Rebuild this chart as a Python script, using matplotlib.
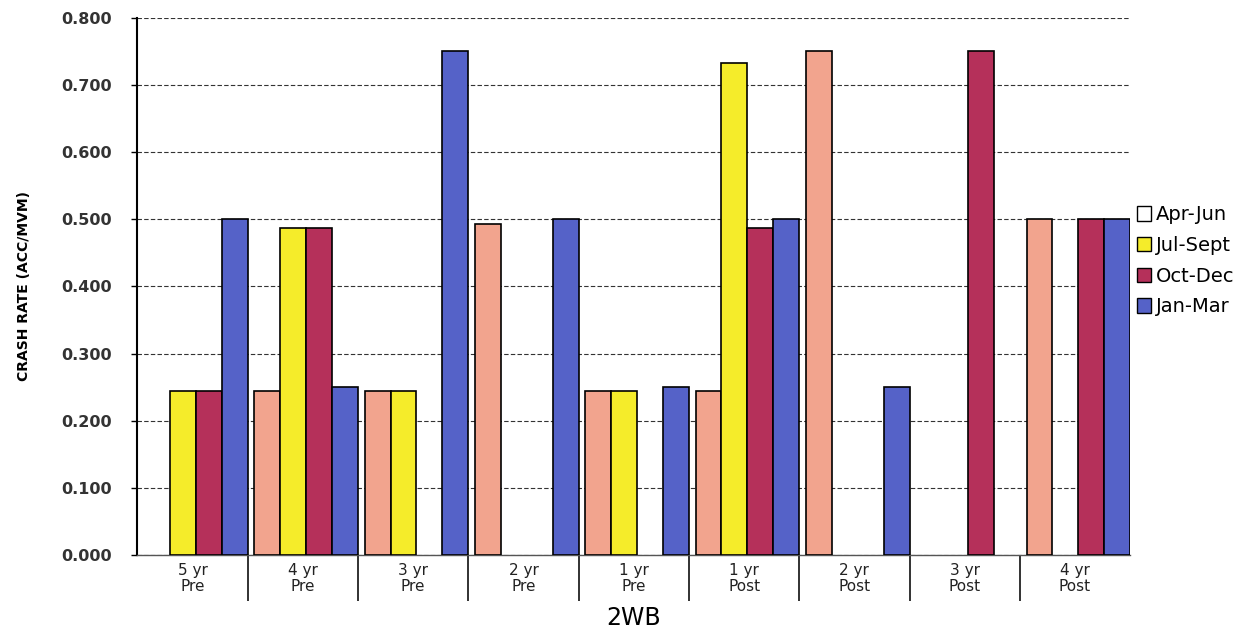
import numpy as np
import matplotlib
matplotlib.use('Agg')
import matplotlib.pyplot as plt
from matplotlib.patches import Patch

# Crash rate by quarter for each study year
groups = ['5 yr\nPre', '4 yr\nPre', '3 yr\nPre', '2 yr\nPre', '1 yr\nPre',
          '1 yr\nPost', '2 yr\nPost', '3 yr\nPost', '4 yr\nPost']
apr_jun = [0.000, 0.245, 0.245, 0.493, 0.245, 0.245, 0.750, 0.000, 0.500]
jul_sept = [0.245, 0.487, 0.245, 0.000, 0.245, 0.733, 0.000, 0.000, 0.000]
oct_dec = [0.245, 0.487, 0.000, 0.000, 0.000, 0.487, 0.000, 0.750, 0.500]
jan_mar = [0.500, 0.250, 0.750, 0.500, 0.250, 0.500, 0.250, 0.000, 0.500]

series = [('Apr-Jun', apr_jun, '#f2a48e'),
          ('Jul-Sept', jul_sept, '#f5ec2a'),
          ('Oct-Dec', oct_dec, '#b5305a'),
          ('Jan-Mar', jan_mar, '#5562c8')]
legend_colors = ['white', '#f5ec2a', '#b5305a', '#5562c8']

fig = plt.figure(figsize=(12.6, 6.33), dpi=100)
ax = fig.add_axes([0.109, 0.123, 0.788, 0.849])

x = np.arange(len(groups))
w = 0.235
for i, (name, vals, col) in enumerate(series):
    vals = np.array(vals)
    mask = vals > 0
    ax.bar(x[mask] + (i - 1.5) * w + 0.03, vals[mask], width=w, color=col,
           edgecolor='black', linewidth=1.2, zorder=3)

ax.set_xlim(-0.5, len(groups) - 0.5)
ax.set_ylim(0, 0.8)
ax.set_yticks(np.arange(0, 0.81, 0.1))
ax.set_yticklabels([f'{v:.3f}' for v in np.arange(0, 0.81, 0.1)],
                   fontsize=11.5, fontweight='bold', color='#333333')
ax.yaxis.grid(True, linestyle=(0, (4, 2)), color='#333333', linewidth=0.8, zorder=0)

# category labels in the middle, separators between groups
ax.set_xticks(x)
ax.set_xticklabels(groups, fontsize=11, color='#222222', linespacing=1.05)
ax.tick_params(axis='x', which='major', length=0, pad=6)
ax.set_xticks(np.arange(0.5, len(groups) - 0.5, 1), minor=True)
ax.tick_params(axis='x', which='minor', length=33, width=1.3, color='#222222')
ax.tick_params(axis='y', length=4, width=1, pad=14)

for s in ['top', 'right']:
    ax.spines[s].set_visible(False)
ax.spines['left'].set_linewidth(1.5)
ax.spines['bottom'].set_linewidth(1.0)
ax.spines['bottom'].set_color('#555555')

ax.set_ylabel('CRASH RATE (ACC/MVM)', fontsize=10, fontweight='bold', labelpad=22)
ax.set_xlabel('2WB', fontsize=17, labelpad=0)

handles = [Patch(facecolor=c, edgecolor='black', label=n)
           for c, (n, _, _) in zip(legend_colors, series)]
fig.legend(handles=handles, loc='center left', bbox_to_anchor=(0.896, 0.588),
           frameon=False, fontsize=14, handlelength=0.75, handleheight=0.75,
           handletextpad=0.25, labelspacing=0.6, borderaxespad=0)

plt.savefig('out.png', dpi=100)
